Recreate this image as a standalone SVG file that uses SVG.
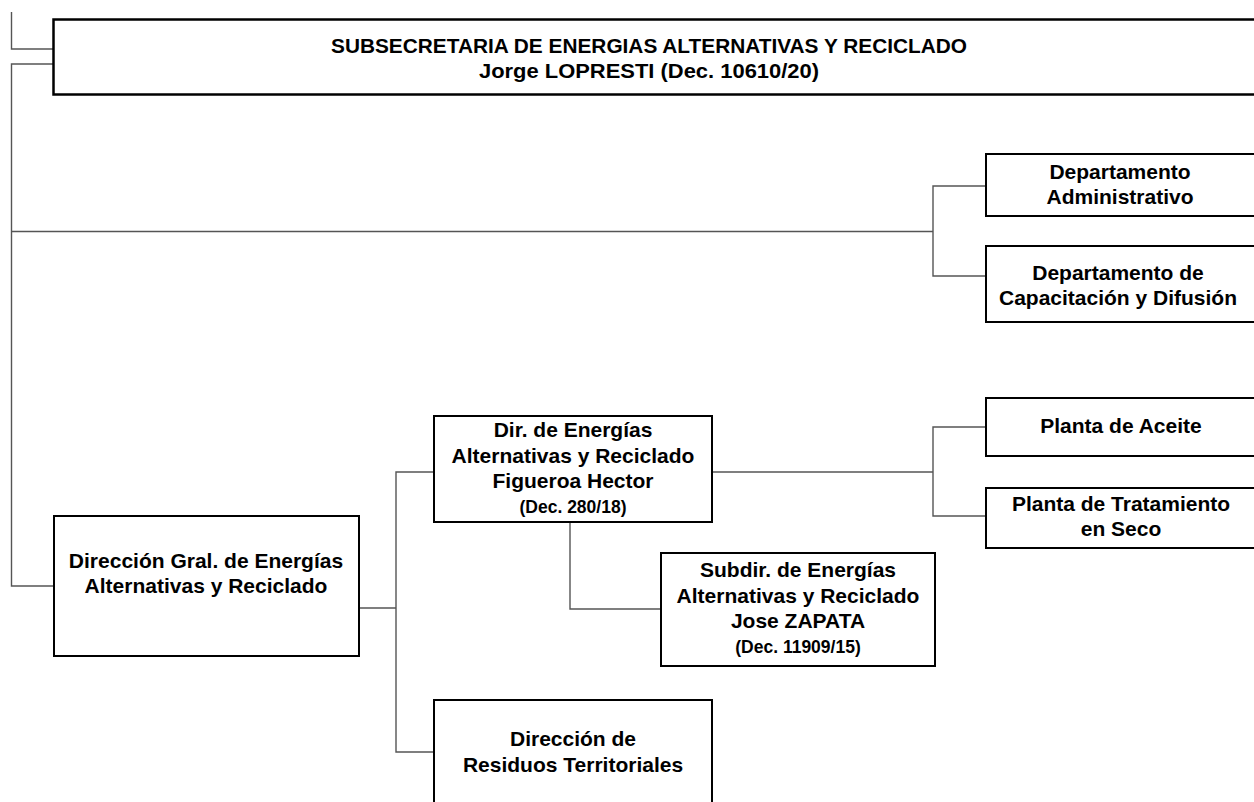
<svg xmlns="http://www.w3.org/2000/svg" width="1254" height="802" viewBox="0 0 1254 802">
<style>
.box{fill:#fff;stroke:#000;stroke-width:2}
.top{fill:#fff;stroke:#000;stroke-width:2.5}
.c{fill:none;stroke:#555;stroke-width:1.4}
text{font-family:"Liberation Sans",Arial,sans-serif;font-weight:bold;fill:#000;text-anchor:middle}
.t{font-size:21px}
.s{font-size:17.5px}
.h{font-size:20.5px}
</style>
<rect width="1254" height="802" fill="#fff"/>
<g id="connectors">
<path class="c" d="M11.5,12 V49 H53"/>
<path class="c" d="M53,64 H11.5 V586 H54"/>
<path class="c" d="M11.5,231.5 H933"/>
<path class="c" d="M986,186 H933 V276 H986"/>
<path class="c" d="M359,608 H396"/>
<path class="c" d="M434,472 H396 V752 H434"/>
<path class="c" d="M712,472 H933"/>
<path class="c" d="M986,427 H933 V516 H986"/>
<path class="c" d="M570,522 V609 H661"/>
</g>
<g id="subsecretaria">
<rect class="top" x="53.5" y="19.5" width="1220" height="75"/>
<text class="h" x="649" y="53" textLength="636" lengthAdjust="spacingAndGlyphs">SUBSECRETARIA DE ENERGIAS ALTERNATIVAS Y RECICLADO</text>
<text class="h" x="649" y="78" textLength="340" lengthAdjust="spacingAndGlyphs">Jorge LOPRESTI (Dec. 10610/20)</text>
</g>
<g id="dep-administrativo">
<rect class="box" x="986" y="154" width="280" height="62"/>
<text class="t" x="1120" y="179">Departamento</text>
<text class="t" x="1120" y="204">Administrativo</text>
</g>
<g id="dep-capacitacion">
<rect class="box" x="986" y="246" width="280" height="76"/>
<text class="t" x="1118" y="280">Departamento de</text>
<text class="t" x="1118" y="305">Capacitación y Difusión</text>
</g>
<g id="planta-aceite">
<rect class="box" x="986" y="398" width="280" height="58"/>
<text class="t" x="1121" y="433">Planta de Aceite</text>
</g>
<g id="planta-tratamiento">
<rect class="box" x="986" y="488" width="280" height="60"/>
<text class="t" x="1121" y="511">Planta de Tratamiento</text>
<text class="t" x="1121" y="536">en Seco</text>
</g>
<g id="dir-energias">
<rect class="box" x="434" y="416" width="278" height="106"/>
<text class="t" x="573" y="437">Dir. de Energías</text>
<text class="t" x="573" y="463">Alternativas y Reciclado</text>
<text class="t" x="573" y="488">Figueroa Hector</text>
<text class="s" x="573" y="513">(Dec. 280/18)</text>
</g>
<g id="subdir-energias">
<rect class="box" x="661" y="553" width="274" height="113"/>
<text class="t" x="798" y="577">Subdir. de Energías</text>
<text class="t" x="798" y="603">Alternativas y Reciclado</text>
<text class="t" x="798" y="628">Jose ZAPATA</text>
<text class="s" x="798" y="653">(Dec. 11909/15)</text>
</g>
<g id="dir-gral">
<rect class="box" x="54" y="516" width="305" height="140"/>
<text class="t" x="206" y="568">Dirección Gral. de Energías</text>
<text class="t" x="206" y="593">Alternativas y Reciclado</text>
</g>
<g id="dir-residuos">
<rect class="box" x="434" y="700" width="278" height="120"/>
<text class="t" x="573" y="746">Dirección de</text>
<text class="t" x="573" y="772">Residuos Territoriales</text>
</g>
</svg>
